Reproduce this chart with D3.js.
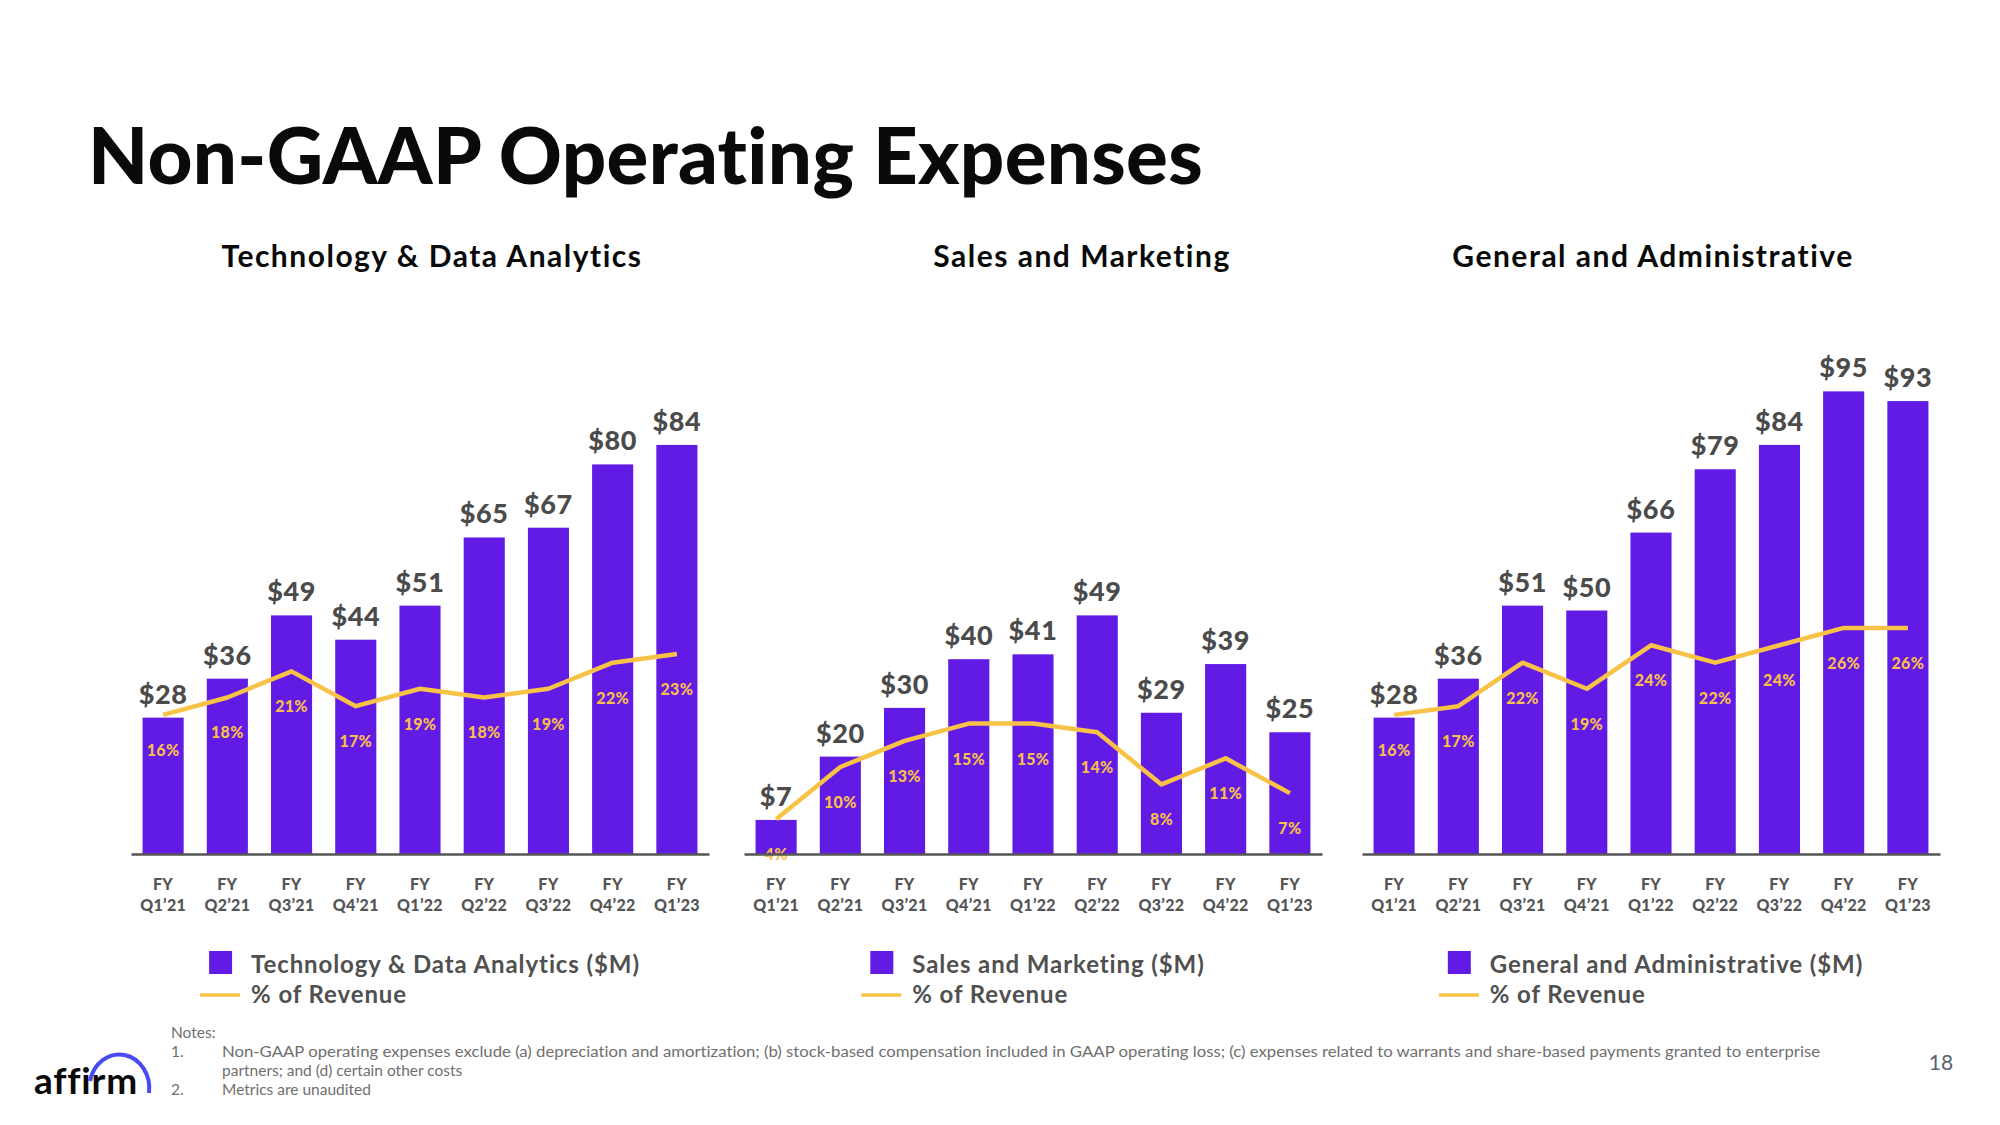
<!DOCTYPE html>
<html>
<head>
<meta charset="utf-8">
<script src="https://cdn.jsdelivr.net/npm/d3@7/dist/d3.min.js"></script>
<style>
  html, body { margin: 0; padding: 0; background: #fff; }
  svg { display: block; }
  text { font-family: Lato, "Open Sans", sans-serif; font-variant-ligatures: none; }
</style>
</head>
<body>
<svg id="chart" width="2000" height="1125"></svg>
<script>
// ---------------- data ----------------
const quarters = ["Q1’21", "Q2’21", "Q3’21", "Q4’21", "Q1’22", "Q2’22", "Q3’22", "Q4’22", "Q1’23"];
const fyPrefix = "FY";

const techValues = [28, 36, 49, 44, 51, 65, 67, 80, 84];
const techPct    = [16, 18, 21, 17, 19, 18, 19, 22, 23];

const smValues = [7, 20, 30, 40, 41, 49, 29, 39, 25];
const smPct    = [4, 10, 13, 15, 15, 14, 8, 11, 7];

const gaValues = [28, 36, 51, 50, 66, 79, 84, 95, 93];
const gaPct    = [16, 17, 22, 19, 24, 22, 24, 26, 26];

const panelTitles  = ["Technology & Data Analytics", "Sales and Marketing", "General and Administrative"];
const legendLabels = ["Technology & Data Analytics ($M)", "Sales and Marketing ($M)", "General and Administrative ($M)"];
const lineLegend = "% of Revenue";

const pageTitle = "Non-GAAP Operating Expenses";
const notesHeader = "Notes:";
const notes = [
  ["1.", "Non-GAAP operating expenses exclude (a) depreciation and amortization; (b) stock-based compensation included in GAAP operating loss; (c) expenses related to warrants and share-based payments granted to enterprise",
         "partners; and (d) certain other costs"],
  ["2.", "Metrics are unaudited"]
];
const pageNumber = "18";

// ---------------- styles / layout ----------------
const BAR = "#611BE4";
const LINE = "#F8C246";
const PCT_TXT = "#F7BE4E";
const DARK = "#4B4B4B";
const AXIS = "#555555";

const svg = d3.select("#chart");
const baseY = 854;
const panelW = 578;
const panelX = [131, 744, 1362];
const subtitleCx = [432, 1082, 1653];

const yBar = d3.scaleLinear().domain([0, 100]).range([baseY, 367]);
const yPct = d3.scaleLinear().domain([0, 56]).range([baseY, 367]);

// title
svg.append("text")
  .attr("x", 88).attr("y", 184)
  .attr("font-size", 78).attr("font-weight", 900)
  .attr("letter-spacing", 0.3)
  .attr("fill", "#0a0a0a")
  .text(pageTitle);

const panels = [
  { values: techValues, pct: techPct },
  { values: smValues, pct: smPct },
  { values: gaValues, pct: gaPct }
];

panels.forEach((p, i) => {
  const x0 = panelX[i];
  const g = svg.append("g");
  const data = quarters.map((q, k) => ({ q, v: p.values[k], pct: p.pct[k] }));

  const x = d3.scaleBand().domain(quarters).range([x0, x0 + panelW])
    .paddingInner(0.36).paddingOuter(0.18).align(0.5);

  // subtitle
  g.append("text")
    .attr("x", subtitleCx[i]).attr("y", 267)
    .attr("text-anchor", "middle")
    .attr("font-size", 30).attr("font-weight", 700)
    .attr("letter-spacing", 1.5)
    .attr("fill", "#0a0a0a")
    .text(panelTitles[i]);

  // bars
  g.selectAll("rect.bar").data(data).join("rect")
    .attr("class", "bar")
    .attr("x", d => x(d.q)).attr("width", x.bandwidth())
    .attr("y", d => yBar(d.v)).attr("height", d => baseY - yBar(d.v))
    .attr("fill", BAR);

  // line
  const line = d3.line()
    .x(d => x(d.q) + x.bandwidth() / 2)
    .y(d => yPct(d.pct));
  g.append("path").datum(data)
    .attr("d", line)
    .attr("fill", "none").attr("stroke", LINE)
    .attr("stroke-width", 4.5).attr("stroke-linejoin", "round");

  // pct labels
  g.selectAll("text.pct").data(data).join("text")
    .attr("class", "pct")
    .attr("x", d => x(d.q) + x.bandwidth() / 2)
    .attr("y", d => yPct(d.pct) + 41)
    .attr("text-anchor", "middle")
    .attr("font-size", 16).attr("font-weight", 900)
    .attr("letter-spacing", 0.3)
    .attr("fill", PCT_TXT)
    .text(d => d.pct + "%");

  // x axis
  const axis = g.append("g")
    .attr("transform", `translate(0,${baseY})`)
    .call(d3.axisBottom(x).tickSize(0).tickSizeOuter(0).tickFormat(""));
  axis.select(".domain").attr("stroke", AXIS).attr("stroke-width", 2.5);
  axis.selectAll(".tick text").remove();
  axis.selectAll(".tick").each(function(q) {
    const t = d3.select(this).append("text")
      .attr("text-anchor", "middle")
      .attr("fill", AXIS)
      .attr("font-size", 16).attr("font-weight", 900)
      .attr("letter-spacing", 0.3);
    t.append("tspan").attr("x", 0).attr("y", 36).text(fyPrefix);
    t.append("tspan").attr("x", 0).attr("y", 57).text(q);
  });

  // value labels
  g.selectAll("text.val").data(data).join("text")
    .attr("class", "val")
    .attr("x", d => x(d.q) + x.bandwidth() / 2)
    .attr("y", d => yBar(d.v) - 14)
    .attr("text-anchor", "middle")
    .attr("font-size", 27).attr("font-weight", 900)
    .attr("letter-spacing", 0.6)
    .attr("fill", DARK)
    .text(d => "$" + d.v);

  // legend (centered in panel)
  const lg = g.append("g");
  const t1 = lg.append("text").attr("y", 973)
    .attr("font-size", 24).attr("font-weight", 700).attr("fill", "#505050")
    .attr("letter-spacing", 0.9)
    .text(legendLabels[i]);
  const t2 = lg.append("text").attr("y", 1003)
    .attr("font-size", 24).attr("font-weight", 700).attr("fill", "#505050")
    .attr("letter-spacing", 0.9)
    .text(lineLegend);
  const tw = Math.max(t1.node().getComputedTextLength(), t2.node().getComputedTextLength());
  const blockW = 51 + tw;
  const bx = x0 + panelW / 2 - blockW / 2;
  t1.attr("x", bx + 51);
  t2.attr("x", bx + 51);
  lg.append("rect").attr("x", bx + 9).attr("y", 951).attr("width", 23).attr("height", 23).attr("fill", BAR);
  lg.append("line").attr("x1", bx).attr("x2", bx + 40).attr("y1", 995).attr("y2", 995)
    .attr("stroke", LINE).attr("stroke-width", 3.5);
});

// notes
const ng = svg.append("g").attr("fill", "#6f6f6f").attr("font-size", 15.5).attr("font-weight", 400);
ng.append("text").attr("x", 171).attr("y", 1038).text(notesHeader);
ng.append("text").attr("x", 171).attr("y", 1057).text(notes[0][0]);
ng.append("text").attr("x", 222).attr("y", 1057).attr("textLength", 1598).attr("lengthAdjust", "spacingAndGlyphs").text(notes[0][1]);
ng.append("text").attr("x", 222).attr("y", 1076).text(notes[0][2]);
ng.append("text").attr("x", 171).attr("y", 1095).text(notes[1][0]);
ng.append("text").attr("x", 222).attr("y", 1095).text(notes[1][1]);

// page number
svg.append("text").attr("x", 1941).attr("y", 1070).attr("text-anchor", "middle")
  .attr("font-size", 21).attr("fill", "#5a6170").text(pageNumber);

// logo
svg.append("text").attr("x", 34).attr("y", 1094)
  .attr("font-size", 37).attr("font-weight", 700).attr("fill", "#0a0a0a")
  .attr("letter-spacing", 0.8)
  .text("affirm");
svg.append("path")
  .attr("d", "M 90 1081 A 30 34 0 0 1 149 1093")
  .attr("fill", "none").attr("stroke", "#4A4AF4").attr("stroke-width", 4);
</script>
</body>
</html>
